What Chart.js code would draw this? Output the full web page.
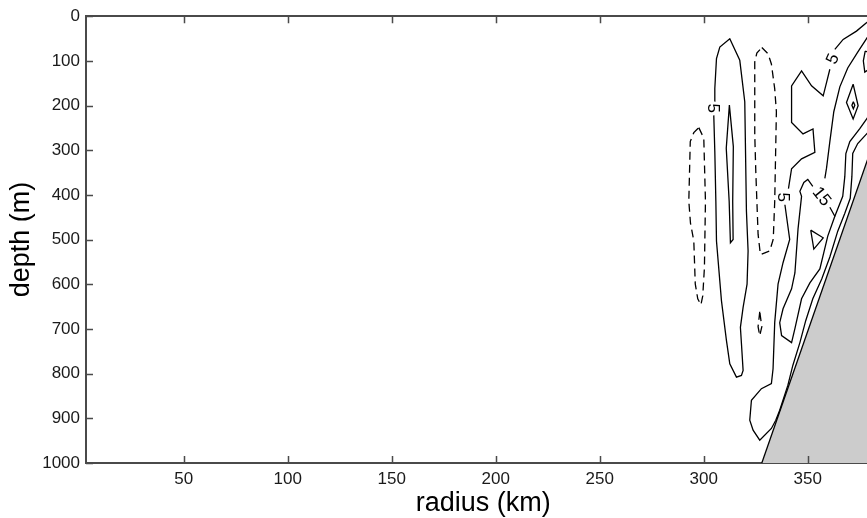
<!DOCTYPE html>
<html><head><meta charset="utf-8">
<script src="https://cdn.jsdelivr.net/npm/chart.js@4.4.0/dist/chart.umd.min.js"></script>
<style>
html,body{margin:0;padding:0;overflow:hidden;background:#fff;width:867px;height:518px}
#wrap{position:absolute;left:0;top:0;width:900px;height:518px}
</style></head>
<body><div id="wrap"><canvas id="c" width="900" height="518"></canvas></div>
<script>
// ---- axis data ----
const xTickValues = [50, 100, 150, 200, 250, 300, 350];
const yTickValues = [0, 100, 200, 300, 400, 500, 600, 700, 800, 900, 1000];
const radiusRange = [3, 385];
const depthRange = [0, 1000];

// ---- contour lines, [radius km, depth m] ----
const tongueOuter = [[305.1,190],[305.3,162],[306.1,95],[307.7,69],[312.5,50.6],[317.3,98.7],[319.7,191.5],[320.5,436.5],[321.3,525.6],[320.8,599.8],[318.9,651.9],[317.6,696.4],[318.1,732.7],[318.9,792.9],[318.1,804],[315.7,807.8],[312.5,778],[310.9,726],[308.5,637],[306.1,503],[305.8,414],[305.3,303],[304.8,222]];
const tongueInner = [[312.3,199],[314.2,291.8],[313.9,414],[314.1,499.6],[312.8,507],[312.2,414],[310.8,295.5],[312.3,199]];
const negWest = [[297.6,249.4],[300,273],[300.8,414],[300.3,563],[299.5,626],[298.6,646],[297.1,632.5],[295.9,599],[295.2,503],[293.6,463],[292.8,414],[293.5,280.6],[295.2,260.6],[297.6,249.4]];
const negEast = [[327.9,70.2],[330.9,84],[332.5,107],[334.1,162.6],[334.9,213.8],[334.1,414],[333.4,499],[331.7,525.6],[327.2,533.4],[326.1,487.8],[325,347.4],[324.5,265],[324.5,102.4],[325.5,82.4],[327.9,70.2]];
const negSmall = [[326.9,661.5],[326.1,695],[326.9,715],[327.9,695],[326.9,661.5]];
const pos5TopA = [[381.5,0],[378.2,14.9],[373.4,33.4],[367.0,51.9],[363.0,74.2]];
const pos5TopB = [[360.6,118.7],[359.0,148.6],[357.4,178.2],[351.8,155.9],[347.0,122.5],[342.2,155.9],[342.2,237.6],[347.7,263.5],[352.5,252.3],[353.4,304.5],[347.0,319.2],[342.2,341.4],[340.7,386]];
const pos5Lower = [[339.0,422],[341.3,499.6],[338.1,551.7],[335.7,599.8],[334.1,685.3],[333.3,789.1],[332.5,822.5],[327.7,833.6],[322.9,859.7],[322.1,904.2],[323.7,926.5],[326.9,948.8],[332.5,922.7],[334.6,904.2]];
const pos15Line = [[382.7,17.8],[378.4,49],[374.0,80.2],[369.2,115.8],[365.4,158.1],[362.5,213.8],[360.6,280.6],[359.0,340.1],[358.2,363]];
const innerLoop = [[352.4,380.8],[350,365.3],[348.1,371.9],[346.2,392],[347.0,403.1],[345.3,476.6],[343.8,574.6],[342.2,610.2],[338.1,654.8],[336.5,686],[337.4,714.9],[342.2,730.5],[343.8,699.3],[347.0,632.5],[351.0,596.9],[355.8,565.7],[359.6,492.2],[363.0,447.7],[360.6,427.6]];
const eastRidge = [[382.7,200],[378.4,229.4],[375.0,251.7],[370.2,280.6],[368.3,307.3],[367.8,358.6],[366.8,403.1],[363.0,447.7]];
const slopeHugger = [[382.7,240.5],[378.4,262.8],[374.0,285.1],[371.6,307.3],[371.2,358.6],[370.4,407.6],[367.8,441],[364.4,481.1],[360.6,539],[356.7,588],[352.4,632.5],[349.0,681.5],[346.2,730.5],[342.8,781.7],[340.4,826.3],[336.5,882],[334.6,904.2]];
const triangleLoop = [[351.4,478.8],[352.9,521.2],[357.4,496],[351.4,478.8]];
const diamondLoop = [[371.8,152.1],[368.6,193.1],[371.8,230.1],[374.2,200.4],[371.8,152.1]];
const diamondCore = [[371.9,191.5],[371.2,199.3],[371.9,207.1],[372.6,199.3],[371.9,191.5]];
const edgeLoop = [[377.6,78],[376.7,100],[377.4,125],[379,120],[379.5,95],[378.8,80],[377.6,78]];

// ---- bathymetry (continental slope) ----
const slopeRadius = [327.9, 385];
const slopeDepth = [1000, 237];

// ---- contour labels ----
const labelText = ['5', '5', '5', '15'];
const labelRadius = [304.5, 362.2, 338.1, 356.5];
const labelDepth = [206, 96, 405, 404];
const labelAngle = [90, -66, 90, 51];

const solidLines = [tongueOuter, tongueInner, pos5TopA, pos5TopB, pos5Lower, pos15Line, innerLoop, eastRidge, slopeHugger, triangleLoop, diamondLoop, diamondCore, edgeLoop];
const dashedLines = [negWest, negEast, negSmall];

const FONT = '"Liberation Sans", Arial, Helvetica, sans-serif';
const AXIS_COLOR = '#4a4a4a';
const toXY = arr => arr.map(([x, y]) => ({x, y}));

const datasets = [];
solidLines.forEach(l => datasets.push({data: toXY(l), showLine: true, borderColor: '#000', borderWidth: 1.3, pointRadius: 0, fill: false, order: 1}));
dashedLines.forEach(l => datasets.push({data: toXY(l), showLine: true, borderColor: '#000', borderWidth: 1.3, borderDash: [8, 5], pointRadius: 0, fill: false, order: 1}));
datasets.push({data: slopeRadius.map((x, i) => ({x, y: slopeDepth[i]})), showLine: true, borderColor: '#000', borderWidth: 1.3, pointRadius: 0, fill: 'start', backgroundColor: '#cccccc', order: 10});

const inwardTicks = {
  id: 'inwardTicks',
  afterDraw(chart) {
    const {ctx, chartArea: a, scales: {x, y}} = chart;
    ctx.save();
    ctx.strokeStyle = AXIS_COLOR; ctx.lineWidth = 1.5;
    ctx.beginPath();
    xTickValues.forEach(v => {
      const p = Math.round(x.getPixelForValue(v)) + 0.5;
      ctx.moveTo(p, a.bottom); ctx.lineTo(p, a.bottom - 7);
      ctx.moveTo(p, a.top); ctx.lineTo(p, a.top + 7);
    });
    yTickValues.forEach(v => {
      const p = Math.round(y.getPixelForValue(v)) + 0.5;
      ctx.moveTo(a.left, p); ctx.lineTo(a.left + 7, p);
    });
    ctx.stroke();
    ctx.restore();
  }
};

const contourLabels = {
  id: 'contourLabels',
  afterDatasetsDraw(chart) {
    const {ctx, scales: {x, y}} = chart;
    ctx.save();
    ctx.fillStyle = '#000';
    ctx.font = '17px ' + FONT;
    ctx.textAlign = 'center';
    ctx.textBaseline = 'middle';
    labelText.forEach((t, i) => {
      ctx.save();
      ctx.translate(x.getPixelForValue(labelRadius[i]), y.getPixelForValue(labelDepth[i]));
      ctx.rotate(labelAngle[i] * Math.PI / 180);
      ctx.fillText(t, 0, 0);
      ctx.restore();
    });
    ctx.restore();
  }
};

const plainTick = v => String(v);

new Chart(document.getElementById('c'), {
  type: 'scatter',
  data: {datasets},
  options: {
    responsive: false,
    animation: false,
    devicePixelRatio: 1,
    layout: {padding: {top: 14, right: 19.4, left: 0, bottom: 0}},
    plugins: {legend: {display: false}, tooltip: {enabled: false}},
    scales: {
      x: {
        type: 'linear', position: 'bottom', min: radiusRange[0], max: radiusRange[1],
        afterBuildTicks: s => { s.ticks = xTickValues.map(v => ({value: v})); },
        afterFit: s => { s.height = 55; },
        ticks: {font: {family: FONT, size: 17}, color: '#1a1a1a', padding: 6, maxRotation: 0, callback: plainTick},
        grid: {display: true, drawOnChartArea: false, drawTicks: false},
        border: {display: true, color: AXIS_COLOR, width: 2},
        title: {display: true, text: 'radius (km)', font: {family: FONT, size: 27, lineHeight: 1}, color: '#000', padding: {top: 0, bottom: 1}}
      },
      x2: {
        type: 'linear', position: 'top', min: radiusRange[0], max: radiusRange[1],
        afterFit: s => { s.height = 0; },
        ticks: {display: false},
        grid: {display: true, drawOnChartArea: false, drawTicks: false},
        border: {display: true, color: AXIS_COLOR, width: 2}
      },
      y: {
        type: 'linear', position: 'left', reverse: true, min: depthRange[0], max: depthRange[1],
        afterBuildTicks: s => { s.ticks = yTickValues.map(v => ({value: v})); },
        afterFit: s => { s.width = 86; },
        ticks: {font: {family: FONT, size: 17}, color: '#1a1a1a', padding: 6, callback: plainTick},
        grid: {display: true, drawOnChartArea: false, drawTicks: false},
        border: {display: true, color: AXIS_COLOR, width: 2},
        title: {display: true, text: 'depth (m)', font: {family: FONT, size: 27, lineHeight: 1}, color: '#000', padding: {top: 8, bottom: 0}}
      }
    }
  },
  plugins: [inwardTicks, contourLabels]
});
</script>
</body></html>
